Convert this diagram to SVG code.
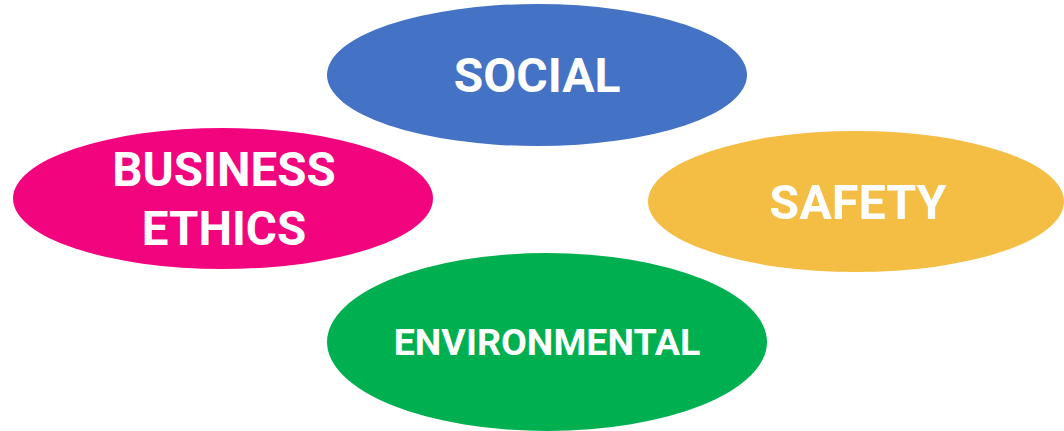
<svg xmlns="http://www.w3.org/2000/svg" width="1064" height="431" viewBox="0 0 1064 431">
<style>
.lbl{font-family:Roboto,"Liberation Sans",sans-serif;font-weight:bold;fill:#ffffff;text-anchor:middle}
</style>
<rect width="1064" height="431" fill="#ffffff"/>
<g id="connectors"/>
<g id="node-social">
<ellipse cx="537" cy="75" rx="210" ry="71" fill="#4472C4"/>
<text class="lbl" x="537" y="92" font-size="48">SOCIAL</text>
</g>
<g id="node-business-ethics">
<ellipse cx="223" cy="198.5" rx="210" ry="70.5" fill="#F2047F"/>
<text class="lbl" x="224" y="186" font-size="47.5">BUSINESS</text>
<text class="lbl" x="224" y="245" font-size="47.5">ETHICS</text>
</g>
<g id="node-safety">
<ellipse cx="856" cy="201.5" rx="208" ry="70.5" fill="#F4BD44"/>
<text class="lbl" x="858" y="219" font-size="48.5">SAFETY</text>
</g>
<g id="node-environmental">
<ellipse cx="547" cy="342" rx="220" ry="89" fill="#00B050"/>
<text class="lbl" x="547" y="355" font-size="37.6">ENVIRONMENTAL</text>
</g>
</svg>
